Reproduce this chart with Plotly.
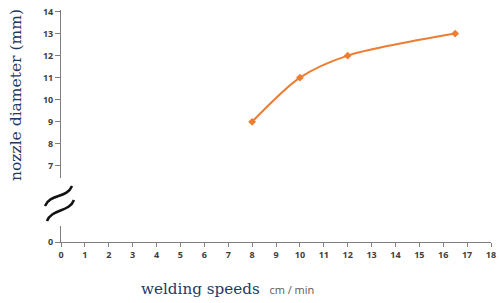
import plotly.graph_objects as go

# Data
speeds = [8, 10, 12, 16.5]
diameters = [9, 11, 12, 13]
x_ticks = list(range(0, 19))
y_ticks_top = [7, 8, 9, 10, 11, 12, 13, 14]

W, H = 499, 303
L, R, T, B = 61, 8, 10, 61
PW, PH = W - L - R, H - T - B


def px(x):
    return (x - L) / PW


def py(y):
    return (H - B - y) / PH


def tilde(x0, y0, x1, y1, a=7):
    dx, dy = x1 - x0, y1 - y0
    ln = (dx * dx + dy * dy) ** 0.5
    nx, ny = dy / ln, -dx / ln  # perpendicular
    if ny > 0:
        nx, ny = -nx, -ny
    p1 = (x0 + dx / 3 + nx * a, y0 + dy / 3 + ny * a)
    p2 = (x0 + 2 * dx / 3 - nx * a, y0 + 2 * dy / 3 - ny * a)
    pts = [(x0, y0), p1, p2, (x1, y1)]
    c = [f"{px(p[0]):.4f},{py(p[1]):.4f}" for p in pts]
    return f"M {c[0]} C {c[1]} {c[2]} {c[3]}"


fig = go.Figure()
# invisible helper so the lower (broken) y-axis subplot exists
fig.add_trace(go.Scatter(
    x=[0], y=[0], mode="markers", marker=dict(opacity=0, size=1),
    xaxis="x", yaxis="y", showlegend=False, hoverinfo="skip",
))
fig.add_trace(go.Scatter(
    x=speeds, y=diameters, mode="lines+markers",
    line=dict(color="#ED7D31", width=2, shape="spline", smoothing=0.8),
    marker=dict(symbol="diamond", size=6, color="#ED7D31"),
    xaxis="x", yaxis="y2", showlegend=False, hoverinfo="x+y",
))

tickfont = dict(family="Open Sans", size=9, color="#404040", weight="bold")
axcol = "#7f7f7f"
bottom_frac = 16 / PH
top_start = (H - B - 178) / PH

fig.update_layout(
    width=W, height=H,
    margin=dict(l=L, r=R, t=T, b=B, autoexpand=False),
    paper_bgcolor="white", plot_bgcolor="white",
    xaxis=dict(
        range=[0, 18], tickvals=x_ticks, ticktext=[str(v) for v in x_ticks],
        showgrid=False, zeroline=False, showline=True, linecolor=axcol, linewidth=1,
        ticks="outside", ticklen=4, tickcolor=axcol, tickfont=tickfont,
        anchor="y", automargin=False,
    ),
    yaxis=dict(
        domain=[0, bottom_frac], range=[0, bottom_frac * PH / 22.14],
        tickvals=[0], ticktext=["0"], showgrid=False, zeroline=False,
        showline=True, linecolor=axcol, linewidth=1, ticks="outside", ticklen=5,
        tickcolor=axcol, tickfont=tickfont, anchor="x", automargin=False,
    ),
    yaxis2=dict(
        domain=[top_start, 1], range=[6.45, 14.07],
        tickvals=y_ticks_top, ticktext=[str(v) for v in y_ticks_top],
        showgrid=False, zeroline=False, showline=True, linecolor=axcol, linewidth=1,
        ticks="outside", ticklen=5, tickcolor=axcol, tickfont=tickfont, anchor="x",
        automargin=False,
    ),
    annotations=[
        dict(
            text="nozzle diameter (mm)", xref="paper", yref="paper",
            x=px(16), y=py(95), xanchor="center", yanchor="middle",
            textangle=-90, showarrow=False,
            font=dict(family="DejaVu Serif", size=15.5, color="#1F3864"),
        ),
        dict(
            text="welding speeds  <span style='font-family:Open Sans;font-size:11px;color:#595959'>cm / min</span>",
            xref="paper", yref="paper", x=px(139), y=py(289),
            xanchor="left", yanchor="middle", showarrow=False,
            font=dict(family="DejaVu Serif", size=15.2, color="#1F3864"),
        ),
    ],
    shapes=[
        dict(type="path", xref="paper", yref="paper",
             path=tilde(45, 206, 72, 186), line=dict(color="#111111", width=2.5)),
        dict(type="path", xref="paper", yref="paper",
             path=tilde(47, 221, 74, 200), line=dict(color="#111111", width=2.5)),
    ],
)

fig.write_html(
    "out.html",
    config={"displayModeBar": False},
    post_script="document.body.style.margin='0';document.body.style.overflow='hidden';",
)
